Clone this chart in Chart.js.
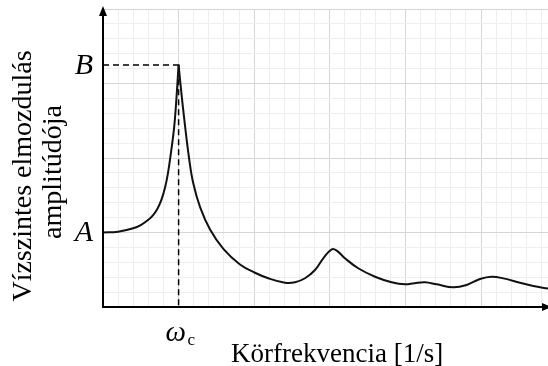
<!DOCTYPE html>
<html>
<head>
<meta charset="utf-8">
<script src="https://cdn.jsdelivr.net/npm/chart.js@4.4.0/dist/chart.umd.min.js"></script>
<style>
  html, body { margin: 0; padding: 0; background: #fff; }
  #wrap { position: relative; width: 548px; height: 366px; }
</style>
</head>
<body>
<div id="wrap"><canvas id="chart" width="548" height="366"></canvas></div>
<script>
// frequency axis in grid units (5 minor cells per major cell)
const freq = [0, 1, 2, 2.5, 3, 3.3, 3.6, 3.85, 4.1, 4.3, 4.5, 4.7, 4.85, 5,
  5.16, 5.42, 5.69, 5.97, 6.42, 7.08, 7.96, 9.06,
  10.05, 10.93, 12.04, 12.7, 13.36, 14.02, 14.57, 15.13, 15.46, 16.0, 16.88, 17.99, 19.09, 19.97,
  20.6, 21.3, 22.07, 23.17, 24.05, 24.93, 25.71, 26.48, 27.58, 28.46, 29.43];
const amplitude = [5, 5.05, 5.28, 5.5, 5.85, 6.15, 6.6, 7.15, 8.0, 9.0, 10.4, 12.0, 13.9, 16.25,
  14.6, 12.2, 10.0, 8.3, 6.7, 5.2, 3.9, 2.85,
  2.3, 1.93, 1.63, 1.66, 1.93, 2.48, 3.27, 3.87, 3.78, 3.27, 2.6, 2.03, 1.66, 1.52,
  1.6, 1.66, 1.52, 1.32, 1.48, 1.88, 2.03, 1.92, 1.63, 1.41, 1.24];

const levelA = 5;
const levelB = 16.25;
const omegaC = 5;
const xMax = 29.43;
const yMax = 20;

const points = freq.map((f, i) => ({ x: f, y: amplitude[i] }));
const peakIndex = freq.indexOf(omegaC);

const gridTicks = (n) => Array.from({ length: n + 1 }, (_, i) => ({ value: i }));
const gridColor = (ctx) => (ctx.tick.value % 5 === 0 ? '#d6d6d6' : '#eeeeee');

const serif = '"Liberation Serif", "Times New Roman", serif';

const axesPlugin = {
  id: 'axesAndLabels',
  afterDraw(chart) {
    const { ctx, chartArea, scales } = chart;
    const x0 = scales.x.getPixelForValue(0);
    const y0 = scales.y.getPixelForValue(0);
    ctx.save();
    ctx.strokeStyle = '#000';
    ctx.fillStyle = '#000';
    ctx.lineWidth = 2;

    // y axis with arrow
    ctx.beginPath();
    ctx.moveTo(x0, y0 + 1);
    ctx.lineTo(x0, chartArea.top);
    ctx.stroke();
    ctx.beginPath();
    ctx.moveTo(x0, chartArea.top - 3);
    ctx.lineTo(x0 - 4, chartArea.top + 7);
    ctx.lineTo(x0 + 4, chartArea.top + 7);
    ctx.closePath();
    ctx.fill();

    // x axis with arrow
    ctx.beginPath();
    ctx.moveTo(x0 - 1, y0);
    ctx.lineTo(chartArea.right, y0);
    ctx.stroke();
    ctx.beginPath();
    ctx.moveTo(chartArea.right + 4, y0);
    ctx.lineTo(chartArea.right - 6, y0 - 4);
    ctx.lineTo(chartArea.right - 6, y0 + 4);
    ctx.closePath();
    ctx.fill();

    // level labels
    ctx.font = 'italic 30px ' + serif;
    ctx.textAlign = 'center';
    ctx.textBaseline = 'middle';
    ctx.fillText('B', 84, scales.y.getPixelForValue(levelB) + 1);
    ctx.fillText('A', 84, scales.y.getPixelForValue(levelA) + 1);

    // omega_c
    const xc = scales.x.getPixelForValue(omegaC);
    ctx.textAlign = 'left';
    ctx.textBaseline = 'alphabetic';
    ctx.font = 'italic 29px ' + serif;
    ctx.fillText('ω', xc - 13, y0 + 34);
    ctx.font = '17px ' + serif;
    ctx.fillText('c', xc + 9, y0 + 38);

    // axis titles
    ctx.font = '27px ' + serif;
    ctx.fillText('Körfrekvencia [1/s]', 231, 362);

    ctx.font = '28px ' + serif;
    ctx.textAlign = 'center';
    ctx.textBaseline = 'middle';
    ctx.translate(24, 176);
    ctx.rotate(-Math.PI / 2);
    ctx.fillText('Vízszintes elmozdulás', 0, 0);
    ctx.fillText('amplitúdója', 4, 30);
    ctx.restore();
  }
};

const curveStyle = {
  borderColor: '#111',
  borderWidth: 2,
  pointRadius: 0,
  tension: 0.4,
  fill: false
};

new Chart(document.getElementById('chart'), {
  type: 'line',
  data: {
    datasets: [
      // split at the resonance so the peak stays pointed
      { ...curveStyle, data: points.slice(0, peakIndex + 1) },
      { ...curveStyle, data: points.slice(peakIndex) },
      {
        data: [{ x: 0, y: levelB }, { x: omegaC, y: levelB }, { x: omegaC, y: 0 }],
        borderColor: '#000',
        borderWidth: 1.5,
        borderDash: [6, 4],
        pointRadius: 0,
        tension: 0,
        fill: false
      }
    ]
  },
  options: {
    responsive: false,
    animation: false,
    devicePixelRatio: 1,
    layout: { padding: { left: 103, right: 0, top: 9, bottom: 59 } },
    plugins: { legend: { display: false }, tooltip: { enabled: false } },
    scales: {
      x: {
        type: 'linear',
        min: 0,
        max: xMax,
        afterBuildTicks: (scale) => { scale.ticks = gridTicks(29); },
        ticks: { display: false },
        grid: { color: gridColor, drawTicks: false, lineWidth: 1 },
        border: { display: false }
      },
      y: {
        type: 'linear',
        min: 0,
        max: yMax,
        afterBuildTicks: (scale) => { scale.ticks = gridTicks(20); },
        ticks: { display: false },
        grid: { color: gridColor, drawTicks: false, lineWidth: 1 },
        border: { display: false }
      }
    }
  },
  plugins: [axesPlugin]
});
</script>
</body>
</html>
